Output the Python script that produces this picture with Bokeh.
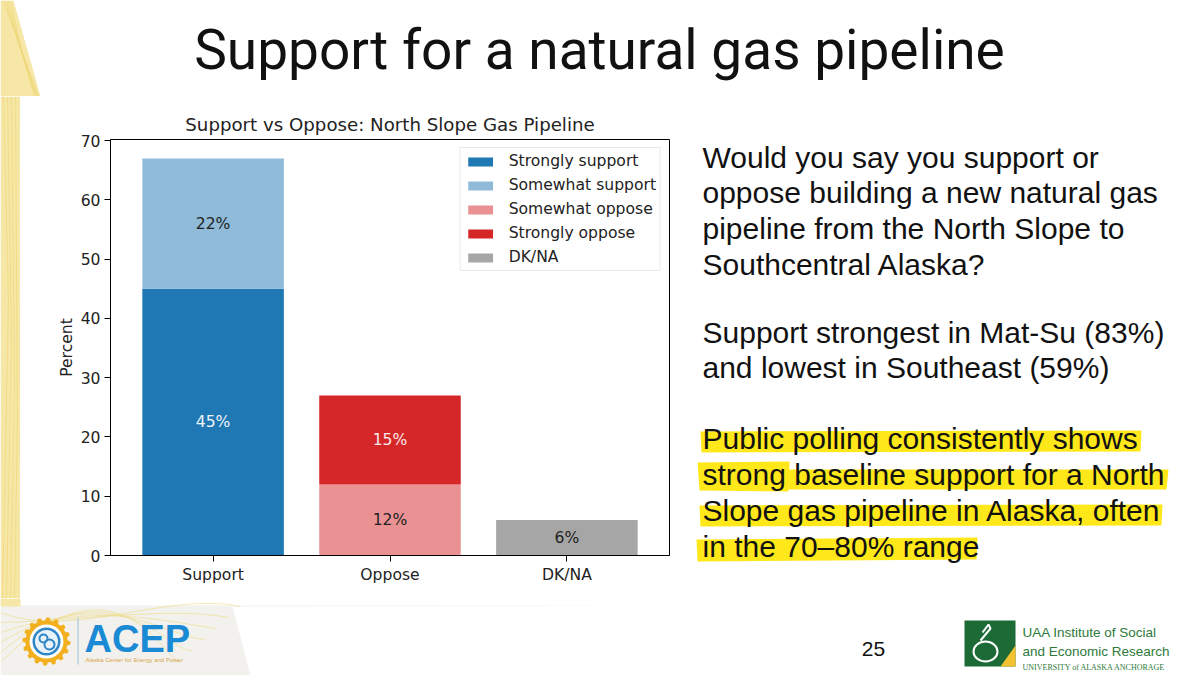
import numpy as np
from bokeh.plotting import figure
from bokeh.layouts import column, row
from bokeh.models import Range1d, FactorRange, ColumnDataSource
from bokeh.core.properties import value
from bokeh.embed import file_html
from bokeh.resources import INLINE

# ---------------- data ----------------
categories = ["Support", "Oppose", "DK/NA"]
segment_names = ["Strongly support", "Somewhat support", "Somewhat oppose", "Strongly oppose", "DK/NA"]
segment_category = ["Support", "Support", "Oppose", "Oppose", "DK/NA"]
segment_values = [45, 22, 12, 15, 6]
y_ticks = [0, 10, 20, 30, 40, 50, 60, 70]

slide_title = "Support for a natural gas pipeline"
chart_title = "Support vs Oppose: North Slope Gas Pipeline"
question_lines = ["Would you say you support or",
                  "oppose building a new natural gas",
                  "pipeline from the North Slope to",
                  "Southcentral Alaska?"]
regional_lines = ["Support strongest in Mat-Su (83%)",
                  "and lowest in Southeast (59%)"]
highlight_lines = ["Public polling consistently shows",
                   "strong baseline support for a North",
                   "Slope gas pipeline in Alaska, often",
                   "in the 70\u201380% range"]
page_number = "25"

# ---------------- styles ----------------
seg_colors = ["#1f77b4", "#8fbbd9", "#ea9293", "#d62728", "#a6a6a6"]
lab_colors = ["#eef3f8", "#222222", "#222222", "#f8e8e8", "#222222"]
MPL = "DejaVu Sans"
ARIAL = "Liberation Sans"
YELLOW_BG = "#f6e7a6"


def panel(x0, x1, y0, y1):
    """A blank figure whose data coordinates equal page pixels."""
    f = figure(width=x1 - x0, height=y1 - y0,
               x_range=Range1d(x0, x1), y_range=Range1d(y1, y0),
               x_axis_location=None, y_axis_location=None,
               output_backend="svg", toolbar_location=None, min_border=0,
               frame_align=False)
    f.grid.visible = False
    f.outline_line_color = None
    f.background_fill_color = "white"
    f.border_fill_color = "white"
    return f


def txt(f, x, baseline, s, font, size_px, color="#111111", align="left", style="normal"):
    # placed by its middle: the middle of the em box sits ~0.35 em above the baseline
    f.text(x=[x], y=[baseline - 0.35 * size_px], text=[s], text_font=value(font),
           text_font_size=f"{size_px}px", text_color=color, text_align=align,
           text_baseline="middle", text_font_style=style)


# ================= top panel: slide title =================
top = panel(0, 1200, 0, 96)
top.patch(x=[0, 13, 40, 40, 0], y=[0, 0, 96, 96, 96], fill_color=YELLOW_BG,
          line_color=None)
for k in range(5):
    top.line(x=[2 + 2 * k, 14 + 2 * k, 38 - k], y=[0, 30 + 6 * k, 96],
             line_color="#ecd36a", line_width=0.7, line_alpha=0.7)
txt(top, 599, 69, slide_title, "Roboto", 55, "#111111", align="center")

# ================= left strip =================
strip = panel(0, 20, 96, 598)
strip.patch(x=[0, 20, 20, 0], y=[96, 96, 598, 598], fill_color=YELLOW_BG,
            line_color=None)
for k in range(4):
    strip.line(x=[3 + 4 * k, 8 + 3 * k, 2 + 4 * k], y=[96, 300 + 40 * k, 598],
               line_color="#ecd36a", line_width=0.7, line_alpha=0.7)

# ================= chart =================
p = figure(width=670, height=502,
           x_range=FactorRange(factors=categories, range_padding=0.08,
                               range_padding_units="absolute"),
           y_range=Range1d(0, 70.2),
           output_backend="svg", toolbar_location=None,
           min_border_left=90, min_border_right=21,
           min_border_top=43, min_border_bottom=43,
           frame_align=False,
           title=chart_title)
p.background_fill_color = "white"
p.border_fill_color = "white"
p.outline_line_color = "black"
p.outline_line_width = 1
p.grid.visible = False

p.title.align = "center"
p.title.text_font = MPL
p.title.text_font_style = "normal"
p.title.text_font_size = "18.2px"
p.title.text_color = "#222222"
p.title.standoff = 9

acc = {c: 0 for c in categories}
bottoms, tops, mids = [], [], []
for c, v in zip(segment_category, segment_values):
    bottoms.append(acc[c])
    tops.append(acc[c] + v)
    mids.append(acc[c] + v / 2)
    acc[c] += v

for i, name in enumerate(segment_names):
    p.vbar(x=[segment_category[i]], bottom=[bottoms[i]], top=[tops[i]], width=0.8,
           fill_color=seg_colors[i], line_color=None, legend_label=name)

src = ColumnDataSource(dict(x=segment_category, y=mids,
                            t=[f"{v}%" for v in segment_values], c=lab_colors))
p.text(x="x", y="y", text="t", source=src, text_color="c",
       text_font=value(MPL), text_font_size="15.6px",
       text_align="center", text_baseline="middle")

for ax in (p.xaxis[0], p.yaxis[0]):
    ax.axis_line_color = "black"
    ax.major_tick_line_color = "black"
    ax.major_tick_out = 6
    ax.major_tick_in = 0
    ax.minor_tick_line_color = None
    ax.major_label_text_font = MPL
    ax.major_label_text_font_size = "15.6px"
    ax.major_label_text_color = "#222222"
    ax.major_label_standoff = 4
p.yaxis.ticker = y_ticks
p.yaxis.axis_label = "Percent"
p.yaxis.axis_label_text_font = MPL
p.yaxis.axis_label_text_font_size = "15.6px"
p.yaxis.axis_label_text_font_style = "normal"
p.yaxis.axis_label_text_color = "#222222"
p.yaxis.axis_label_standoff = 2

lg = p.legend[0]
lg.location = "top_right"
lg.label_text_font = MPL
lg.label_text_font_size = "15.6px"
lg.label_text_color = "#222222"
lg.glyph_width = 31
lg.glyph_height = 11
lg.label_height = 18
lg.spacing = 6
lg.label_standoff = 13
lg.padding = 4
lg.margin = 8
lg.border_line_color = "#d6d6d6"
lg.background_fill_alpha = 0.9

# ================= right text panel =================
tp = panel(690, 1200, 96, 598)
hl_shapes = [
    ([700, 1141, 1140, 701], [431, 430, 451, 452]),
    ([697, 789, 788, 699], [462, 461, 491, 490]),
    ([787, 1168, 1166, 788], [469, 469, 489, 489]),
    ([699, 1162, 1161, 700], [505, 504, 525, 526]),
    ([696, 977, 976, 697], [539, 537, 559, 561]),
]
for xs, ys in hl_shapes:
    tp.patch(x=xs, y=ys, fill_color="#ffe81a", line_color=None)

baselines = [167, 202, 238, 274, 342, 377, 448, 484, 520, 556]
for s, yb in zip(question_lines + regional_lines + highlight_lines, baselines):
    txt(tp, 702, yb, s, ARIAL, 30)

# ================= bottom panel: logos & page number =================
bt = panel(0, 1200, 598, 675)
bt.patch(x=[0, 20, 20, 690, 690, 232, 250, 0], y=[598, 598, 605, 605, 605, 606, 675, 675],
         fill_color="#f2f1ee", line_color=None)
bt.patch(x=[0, 20, 20, 0], y=[598, 598, 606, 606], fill_color=YELLOW_BG, line_color=None)
for k in range(6):
    bt.bezier(x0=[0], y0=[612 + 10 * k], x1=[240 - 12 * k], y1=[606 + 11 * k],
              cx0=[70 + 10 * k], cy0=[640 - 20 * k], cx1=[170], cy1=[590 + 16 * k],
              line_color="#eedc8a", line_width=0.8, line_alpha=0.8)

# ACEP gear
ang = np.linspace(0, 2 * np.pi, 97)[:-1]
rad = np.where((np.arange(96) // 3) % 2 == 0, 24, 21)
cx, cy = 46, 641
bt.patch(x=cx + rad * np.cos(ang), y=cy + rad * np.sin(ang), fill_color="#f2b01e",
         line_color=None)
bt.ellipse(x=[cx, cx, cx], y=[cy, cy, cy], width=[34, 28, 23], height=[34, 28, 23],
           fill_color=["white", "#2f86c6", "#e8f2fa"], line_color=None)
bt.ellipse(x=[cx - 3, cx + 3], y=[cy - 3, cy + 3], width=[8, 10], height=[8, 10],
           fill_color=None, line_color="#2f86c6", line_width=2)
bt.line(x=[77.5, 77.5], y=[617, 664], line_color="#9dbfd9", line_width=1)
txt(bt, 84, 652, "ACEP", ARIAL, 38, "#1a8ad4", style="bold")
txt(bt, 85, 662, "Alaska Center for Energy and Power", ARIAL, 6, "#d9a54a")

txt(bt, 873, 656, page_number, ARIAL, 21, "#111111", align="center")

# ISER logo
bt.quad(left=[964], right=[1015], top=[620], bottom=[666], fill_color="#1c6b36",
        line_color=None)
bt.patch(x=[1015, 1015, 1000], y=[645, 666, 666], fill_color="#f2c230", line_color=None)
bt.ellipse(x=[985], y=[651], width=[24], height=[20], fill_color=None,
           line_color="white", line_width=2)
bt.line(x=[980, 990, 988, 982], y=[640, 628, 624, 632], line_color="white", line_width=2)
txt(bt, 1022, 637, "UAA Institute of Social", ARIAL, 13.5, "#2d7a3a")
txt(bt, 1022, 656, "and Economic Research", ARIAL, 13.5, "#2d7a3a")
txt(bt, 1022, 670, "UNIVERSITY of ALASKA ANCHORAGE", "Liberation Serif", 8, "#2d7a3a")

layout = column(top, row(strip, p, tp, spacing=0), bt, spacing=0)
open("out.html", "w").write(file_html(layout, INLINE))
